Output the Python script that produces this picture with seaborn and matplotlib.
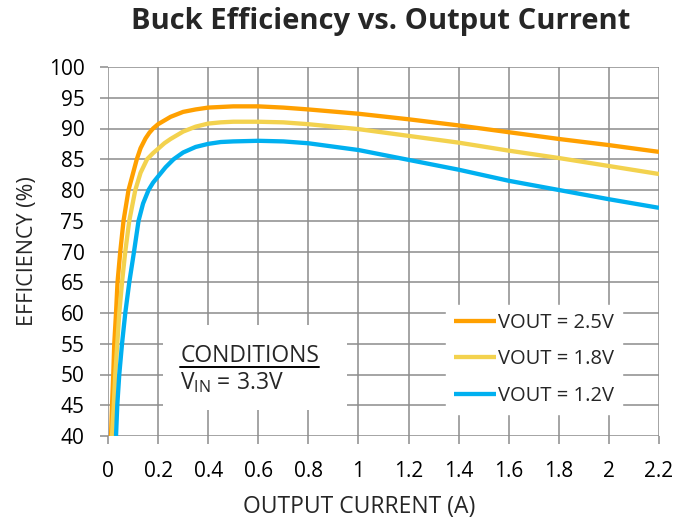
import matplotlib
matplotlib.use("Agg")
import matplotlib.pyplot as plt
from matplotlib.lines import Line2D
from matplotlib.patches import Rectangle
import seaborn as sns
import pandas as pd

# Efficiency curves (output current in A, efficiency in %)
current_25 = [0.012, 0.016, 0.021, 0.025, 0.032, 0.038, 0.049, 0.062, 0.082, 0.115,
              0.13, 0.15, 0.165, 0.18, 0.2, 0.25, 0.3, 0.35, 0.4, 0.45, 0.5, 0.6,
              0.7, 0.8, 1.0, 1.2, 1.4, 1.6, 1.8, 2.0, 2.2]
eff_25 = [40, 45, 50, 55, 60, 65, 70, 75, 80, 85,
          86.8, 88.4, 89.3, 90.0, 90.7, 91.9, 92.7, 93.1, 93.4, 93.5, 93.6, 93.6,
          93.4, 93.1, 92.4, 91.5, 90.5, 89.4, 88.3, 87.3, 86.2]

current_18 = [0.016, 0.023, 0.029, 0.037, 0.045, 0.056, 0.069, 0.085, 0.109, 0.13,
              0.156, 0.18, 0.2, 0.225, 0.25, 0.3, 0.35, 0.4, 0.45, 0.5, 0.6,
              0.7, 0.8, 1.0, 1.2, 1.4, 1.6, 1.8, 2.0, 2.2]
eff_18 = [40, 45, 50, 55, 60, 65, 70, 75, 80, 82.8,
          85, 86.0, 86.7, 87.6, 88.3, 89.5, 90.3, 90.8, 91.0, 91.1, 91.1,
          91.0, 90.7, 89.9, 88.8, 87.7, 86.4, 85.2, 83.9, 82.6]

current_12 = [0.032, 0.037, 0.045, 0.056, 0.069, 0.085, 0.104, 0.122, 0.14, 0.162,
              0.18, 0.2, 0.23, 0.262, 0.3, 0.35, 0.4, 0.45, 0.5, 0.6,
              0.7, 0.8, 1.0, 1.2, 1.4, 1.6, 1.8, 2.0, 2.2]
eff_12 = [40, 45, 50, 55, 60, 65, 70, 75, 77.8, 80,
          81.2, 82.2, 83.7, 85, 86.1, 87.0, 87.5, 87.8, 87.9, 88.0,
          87.9, 87.6, 86.5, 84.9, 83.3, 81.5, 80.0, 78.5, 77.1]

series_labels = ["VOUT = 2.5V", "VOUT = 1.8V", "VOUT = 1.2V"]
series_colors = ["#FFA000", "#F3D24E", "#00B0F0"]

x_ticks = [0, 0.2, 0.4, 0.6, 0.8, 1, 1.2, 1.4, 1.6, 1.8, 2, 2.2]
x_tick_labels = ["0", "0.2", "0.4", "0.6", "0.8", "1", "1.2", "1.4", "1.6", "1.8", "2", "2.2"]
y_ticks = list(range(40, 101, 5))

frames = []
for lbl, xs, ys in zip(series_labels,
                       [current_25, current_18, current_12],
                       [eff_25, eff_18, eff_12]):
    frames.append(pd.DataFrame({"current": xs, "eff": ys, "series": lbl}))
df = pd.concat(frames, ignore_index=True)

sns.set_theme(style="white")
plt.rcParams["font.family"] = ["Open Sans", "DejaVu Sans"]
plt.rcParams["mathtext.fontset"] = "custom"
plt.rcParams["mathtext.rm"] = "Open Sans"
plt.rcParams["mathtext.it"] = "Open Sans"

fig = plt.figure(figsize=(6.77, 5.21), dpi=100)
ax = fig.add_axes([108 / 677, 1 - 436 / 521, 551 / 677, 369 / 521])

grid_color = "#8C8C8C"
ax.set_axisbelow(True)
ax.grid(True, color=grid_color, linewidth=1.1)

sns.lineplot(data=df, x="current", y="eff", hue="series",
             hue_order=series_labels, palette=series_colors,
             sort=False, estimator=None, linewidth=3.1, ax=ax,
             legend=True, zorder=3)
for ln in ax.lines:
    ln.set_solid_joinstyle("round")
    ln.set_solid_capstyle("butt")

ax.set_xlim(0, 2.2)
ax.set_ylim(40, 100)
ax.set_xticks(x_ticks)
ax.set_xticklabels(x_tick_labels)
ax.set_yticks(y_ticks)
for s in ax.spines.values():
    s.set_visible(False)
ax.tick_params(axis="both", which="both", direction="out", length=6,
               width=1.1, color=grid_color, labelsize=15, labelcolor="black")
ax.tick_params(axis="x", pad=12, bottom=True)
ax.tick_params(axis="y", pad=11, left=True)

ax.set_xlabel("OUTPUT CURRENT (A)", fontsize=16.5, va="center")
ax.xaxis.set_label_coords(0.455, -(507 - 436) / 369)
ax.set_ylabel("EFFICIENCY (%)", fontsize=15.5, labelpad=8)

# Legend
handles, labels = ax.get_legend_handles_labels()
leg = ax.legend(handles, labels, loc="lower right", bbox_to_anchor=(0.933, 0.06),
                borderaxespad=0, frameon=True, fancybox=False, framealpha=1,
                facecolor="white", edgecolor="white", fontsize=14.5,
                handlelength=2.05, handletextpad=0.12, labelspacing=0.82,
                borderpad=0.4)
for h in leg.get_lines():
    h.set_linewidth(3.1)

# Conditions box
ax.add_patch(Rectangle((0.0998, 0.0705), 0.334, 0.23, transform=ax.transAxes,
                       facecolor="white", edgecolor="none", zorder=2))
cond = ax.text(0.131, 0.2, "CONDITIONS", transform=ax.transAxes,
               fontsize=16.5, ha="left", va="baseline", zorder=4)
ax.text(0.131, 0.128, r"V$_{\mathrm{IN}}$ = 3.3V", transform=ax.transAxes,
        fontsize=16.5, ha="left", va="baseline", zorder=4)

fig.canvas.draw()
bb = cond.get_window_extent().transformed(ax.transAxes.inverted())
ax.add_line(Line2D([bb.x0, bb.x1], [bb.y0 + 0.002, bb.y0 + 0.002],
                   transform=ax.transAxes, color="black", linewidth=1.4, zorder=4))

fig.text(381 / 677, 1 - 22 / 521, "Buck Efficiency vs. Output Current",
         fontsize=21, fontweight="bold", ha="center", va="center")

fig.savefig("out.png", dpi=100)
